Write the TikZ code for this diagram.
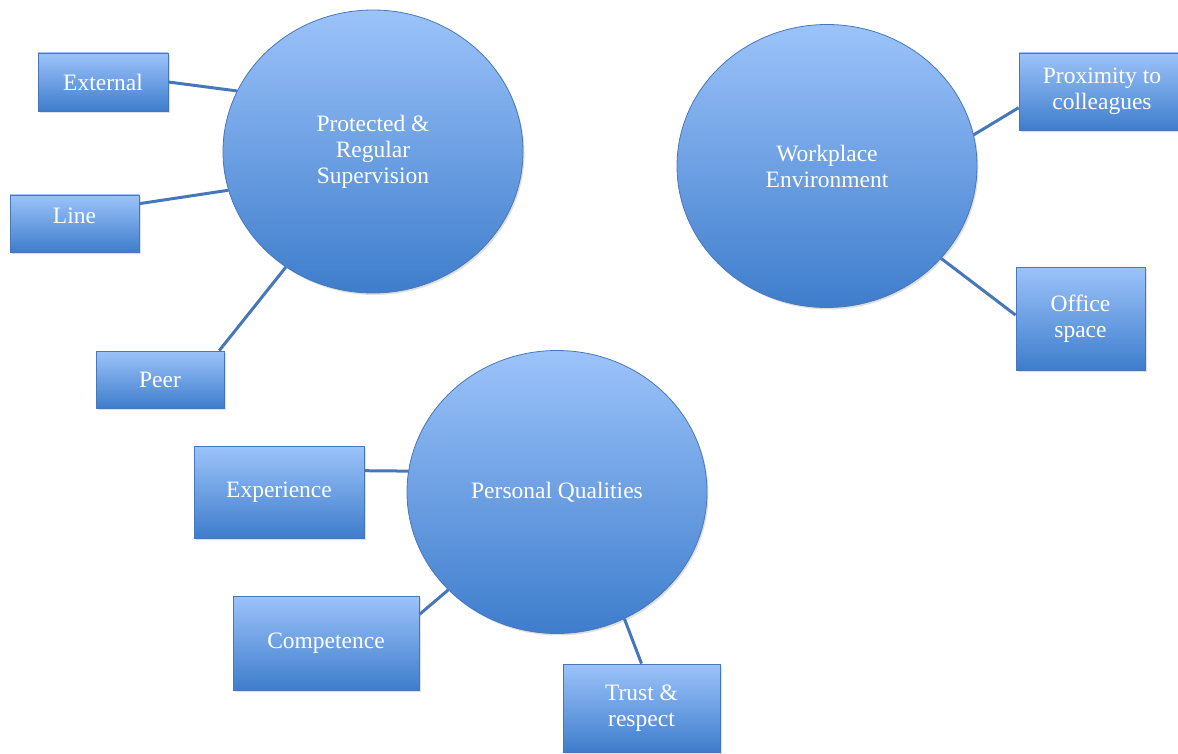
\documentclass[tikz,border=0pt]{standalone}
\usepackage{fontspec}
\setmainfont{Liberation Serif}
\usetikzlibrary{
    shapes.geometric,
    shadows
}
\definecolor{maptop}{RGB}{156,195,250}
\definecolor{mapbottom}{RGB}{62,125,204}
\definecolor{mapedge}{RGB}{72,120,186}
\definecolor{maplink}{RGB}{70,120,185}

\begin{document}
\begin{tikzpicture}[x=1pt, y=-1pt,
        font=\fontsize{23.5}{26}\selectfont, text=white,
        hub/.style={ellipse, draw=mapedge, line width=0.8pt, top color=maptop, bottom color=mapbottom,
            minimum width=300pt, minimum height=283pt, inner sep=0pt, align=center,
            drop shadow={shadow xshift=1.5pt, shadow yshift=-2pt, opacity=0.25}},
        leaf/.style={rectangle, draw=mapedge, line width=0.8pt, top color=maptop, bottom color=mapbottom,
            inner sep=0pt, align=center,
            drop shadow={shadow xshift=1.5pt, shadow yshift=-2pt, opacity=0.25}},
        link/.style={draw=maplink, line width=3pt}]

        \useasboundingbox (0,0) rectangle (1178,754);

        % the three hubs
        \node[hub] (supervision) at (373,151.5) {Protected \&\\Regular\\Supervision};
        \node[hub] (workplace) at (827,166) {Workplace\\Environment};
        \node[hub] (qualities) at (557,492) {Personal Qualities};

        % supervision
        \node[leaf, minimum width=130pt, minimum height=58pt] (external) at (103,82) {External};
        \node[leaf, minimum width=129pt, minimum height=57pt, text depth=16pt] (line) at (74.5,223.5) {Line};
        \node[leaf, minimum width=128pt, minimum height=57pt] (peer) at (160,379.5) {Peer};

        % workplace
        \node[leaf, minimum width=166pt, minimum height=77pt] (proximity) at (1102,91.5) {Proximity to\\colleagues};
        \node[leaf, minimum width=129pt, minimum height=103pt] (office) at (1080.5,318.5) {Office\\space};

        % qualities
        \node[leaf, minimum width=170pt, minimum height=92pt] (experience) at (279,492) {Experience};
        \node[leaf, minimum width=186pt, minimum height=94pt] (competence) at (326,643) {Competence};
        \node[leaf, minimum width=157pt, minimum height=88pt] (trust) at (641.5,708) {Trust \&\\respect};

        \draw[link] (external.east) -- (supervision.156);
        \draw[link] (line.17.6) -- (supervision.195);
        \draw[link] (peer.26.2) -- (supervision.233.3);

        \draw[link] (workplace.12.7) -- (proximity.191.2);
        \draw[link] (workplace.321.6) -- (office.177);

        \draw[link] (experience.14.5) -- (qualities.172.6);
        \draw[link] (competence.17.9) -- (qualities.222.5);
        \draw[link] (qualities.298.4) -- (trust.north);
\end{tikzpicture}
\end{document}
